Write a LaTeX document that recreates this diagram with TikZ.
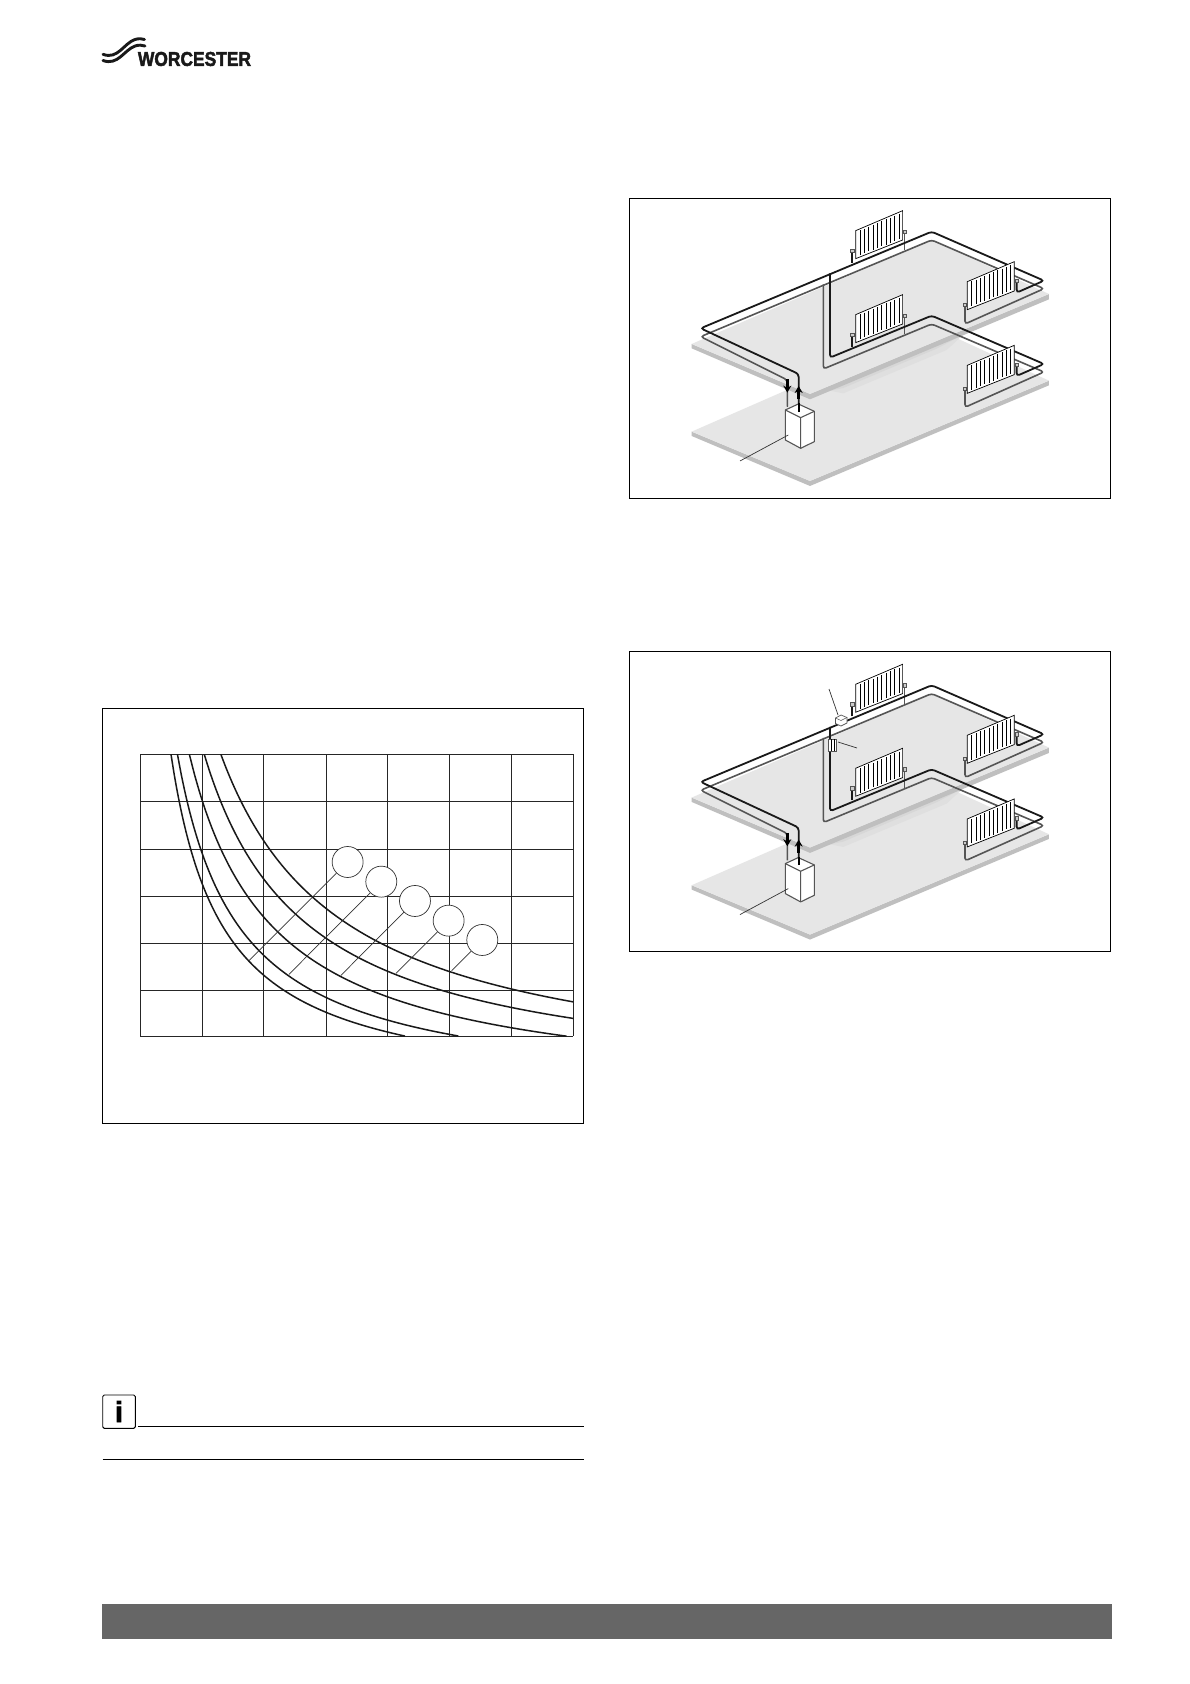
\documentclass[tikz,border=0pt]{standalone}
\usepackage{fontspec}
\setmainfont{Liberation Sans}
\newfontfamily\heavyfont[FakeBold=2.4]{Liberation Sans Bold}
\usetikzlibrary{arrows.meta}
\definecolor{floortop}{HTML}{E6E6E6}
\definecolor{floorside}{HTML}{BFBFBF}
\definecolor{floorshadeA}{HTML}{DFDFDF}
\definecolor{floorshadeB}{HTML}{D7D7D7}
\definecolor{returnpipe}{HTML}{555555}
\definecolor{barcolor}{HTML}{666666}
\tikzset{
	frame/.style={draw=black,line width=0.9pt},
	gridline/.style={draw=black!85,line width=0.9pt},
	curve/.style={draw=black!90,line width=1.5pt},
	leader/.style={draw=black!80,line width=0.7pt},
	callout/.style={circle,draw=black!80,fill=white,line width=0.7pt,minimum size=31pt,inner sep=0pt},
	flow/.style={draw=black!90,line width=1.8pt,rounded corners=3pt},
	return/.style={draw=returnpipe,line width=1.6pt,rounded corners=3pt},
	radiator/.style={draw=black,fill=white,line width=0.7pt},
	valve/.style={draw=returnpipe,fill=black!20,line width=0.7pt},
	fatarrow/.style={draw=black,line width=3pt,-{Stealth[length=7pt,width=8pt]}},
}
\begin{document}
\begin{tikzpicture}[x=1pt,y=-1pt]
	\useasboundingbox[fill=white] (0,0) rectangle (1190,1684);
	% logo
	\draw[black!90,line width=2.9pt,line cap=round] (103,54.3) .. controls (118,60) and (124,43) .. (135,39.5) .. controls (139,38.3) and (142,38.6) .. (144.5,39.5);
	\draw[black!90,line width=2.9pt,line cap=round] (103,60.5) .. controls (118,66) and (124,50) .. (135,46) .. controls (139,44.8) and (142,45) .. (145,46);
	\node[font=\heavyfont\fontsize{20}{20}\selectfont,xscale=0.87,text=black!90,inner sep=0pt] (logo) at (194.5,59) {WORCESTER};
	% chart
	\begin{scope}[shift={(100,700)},x=0.3333pt,y=-0.3333pt]
		\draw[frame] (7,25) rectangle (1451,1271);
		\foreach \i in {121,307,490,679,862,1048,1234,1420}{\draw[gridline] (\i,163)--(\i,1009);}
		\foreach \j in {163,304,448,589,730,871,1009}{\draw[gridline] (121,\j)--(1420,\j);}
		\begin{scope}
			\clip (121,163) rectangle (1420,1009);
			\foreach \s/\e/\o/\h/\k in {213/915/58/1195/1600, 232/1075/50/1191/1875, 268/1400/20/1194/2558, 313/1420/10/1172/3055, 362/1420/-5/1164/3680}{
				\draw[curve] plot[domain=\s:\e,samples=70,smooth] (\x,{\h-\k/(\x-\o)*100});
			}
		\end{scope}
		\foreach \i/\x/\y/\a/\b in {a/743/486/447/782, b/844/545/567/823, c/945/603/723/826, d/1046/662/888/820, e/1147/720/1055/812}{
			\coordinate (end\i) at (\a,\b);
			\node[callout] (call\i) at (\x,\y) {};
			\draw[leader] (call\i)--(end\i);
		}
	\end{scope}
	% heating schemes
	\foreach \dy in {0,453.6}{
		\begin{scope}[shift={(630,190+\dy)},x=0.3333pt,y=-0.3333pt]
			\draw[frame] (-2,25) rectangle (1442,925);
			\fill[floorside] (185,725)--(540,873)--(1257,572)--(1257,586)--(540,888)--(185,738)--cycle;
			\fill[floortop] (185,725)--(905,410)--(1257,572)--(540,873)--cycle;
			\fill[floorshadeA] (600,602)--(1000,434)--(950,480)--(640,610)--cycle;
			\fill[floorshadeB] (600,602)--(1000,434)--(920,476)--(640,594)--cycle;
			\fill[floorside] (185,462)--(540,612)--(1257,312)--(1257,328)--(540,628)--(185,475)--cycle;
			\fill[floortop] (185,462)--(905,150)--(1257,312)--(540,612)--cycle;
			\draw[return] (472,650)--(472,570)--(212,440)--(905,150)--(1242,296)--(1005,402)--(1005,345);
			\draw[return] (580,283)--(580,537)--(905,402)--(1242,546)--(1005,652)--(1005,597);
			\draw[return] (824,180)--(824,125) (824,432)--(824,377);
			\draw[flow] (506,665)--(506,552)--(212,415)--(905,125)--(1242,272)--(1160,308)--(1160,275);
			\draw[flow] (600,250)--(600,503)--(905,377)--(1242,522)--(1160,558)--(1160,527);
			\draw[flow] (667,218)--(667,182) (667,470)--(667,434);
			\foreach \vx/\vy in {667/182,824/125,667/434,824/377,1005/345,1160/272,1005/597,1160/524}{
				\draw[valve] (\vx-5,\vy-5) rectangle (\vx+5,\vy+5);
			}
			\foreach \rx/\ry in {677/122,677/374,1012/275,1012/526}{
				\begin{scope}[shift={(\rx,\ry)}]
					\draw[radiator] (0,0)--(141,-60)--(141,28)--(0,84)--cycle;
					\foreach \k in {13,26,...,130}{
						\draw[black,line width=0.55pt] (\k,-\k*0.425+5)--(\k,-\k*0.4+78);
					}
				\end{scope}
			}
			\draw[fill=white,draw=returnpipe,line width=1.1pt,line join=round] (466,660)--(505,642)--(553,664)--(553,755)--(512,775)--(466,750)--cycle;
			\draw[draw=returnpipe,line width=1.1pt,line join=round] (466,660)--(512,683)--(553,664) (512,683)--(512,775);
			\draw[draw=black,line width=1.7pt] (506,640)--(506,665);
			\draw[draw=returnpipe,line width=1.5pt] (472,610)--(472,650);
			\draw[fatarrow] (472,568)--(472,608);
			\draw[fatarrow] (506,628)--(506,588);
			\coordinate (boilerend) at (330,813);
			\coordinate (boilerfront) at (475,735);
			\draw[leader] (boilerfront)--(boilerend);
		\end{scope}
	}
	% control box and pump of the second scheme
	\draw[fill=white,draw=returnpipe,line width=0.7pt] (835.5,718)--(841,715)--(847,717.5)--(847,723)--(841,726)--(835.5,723.5)--cycle;
	\draw[draw=returnpipe,line width=0.5pt] (835.5,718)--(841,720.5)--(847,717.5);
	\draw[fill=white,draw=returnpipe,line width=0.7pt] (828.5,739) rectangle (836.5,751);
	\draw[draw=black,line width=0.7pt] (831,739)--(831,751) (834,739)--(834,751);
	\coordinate (boxtip) at (829,689);
	\coordinate (boxend) at (838,715);
	\coordinate (pumptip) at (838,742);
	\coordinate (pumpend) at (857,748);
	\draw[leader] (boxtip)--(boxend) (pumptip)--(pumpend);
	% info mark
	\draw[draw=black,line width=0.9pt,rounded corners=1.5pt] (102.7,1395) rectangle (135.3,1428.3);
	\node[font=\heavyfont\fontsize{29}{29}\selectfont,inner sep=0pt] (info) at (119,1411.5) {i};
	\coordinate (ruleastart) at (138.3,1426.3);
	\coordinate (ruleaend) at (583.5,1426.3);
	\coordinate (rulebstart) at (102.7,1459.3);
	\coordinate (rulebend) at (583.5,1459.3);
	\draw[draw=black,line width=0.9pt] (ruleastart)--(ruleaend) (rulebstart)--(rulebend);
	% footer bar
	\fill[barcolor] (102,1604) rectangle (1112,1639);
\end{tikzpicture}
\end{document}
